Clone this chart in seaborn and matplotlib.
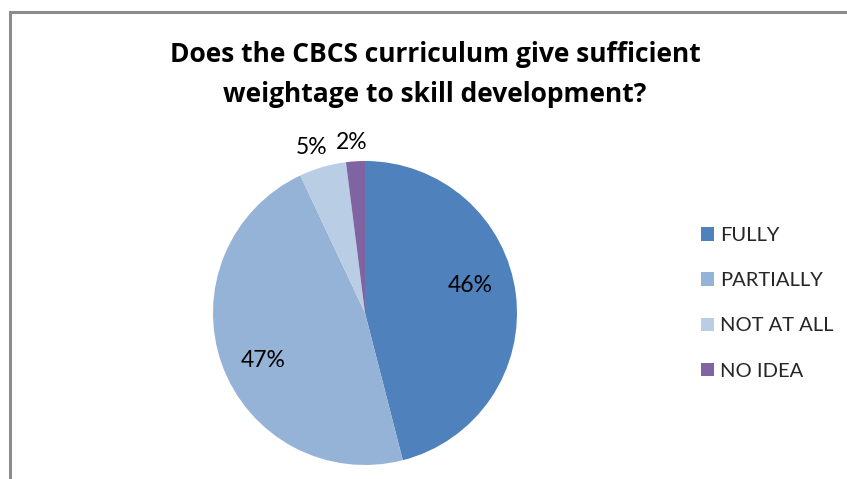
import matplotlib
matplotlib.use("Agg")
import matplotlib.pyplot as plt
from matplotlib.patches import Rectangle, Patch
import seaborn as sns

categories = ["FULLY", "PARTIALLY", "NOT AT ALL", "NO IDEA"]
shares = [46, 47, 5, 2]
colors = ["#4F81BD", "#95B3D7", "#B9CDE5", "#8064A2"]
title_lines = ["Does the CBCS curriculum give sufficient", "weightage to skill development?"]

# label placement in units of the pie radius
label_xy = [(0.69, 0.18), (-0.67, -0.31), (-0.35, 1.09), (-0.086, 1.12)]

sns.set_theme(style="white")
plt.rcParams["font.family"] = ["Lato", "DejaVu Sans"]

W, H, DPI = 847, 479, 100
fig = plt.figure(figsize=(W / DPI, H / DPI), dpi=DPI)
fig.patch.set_facecolor("white")

# chart frame (cropped on the right and bottom)
fig.patches.append(Rectangle((9.5 / W, -0.2), 1.5, (H - 12) / H + 0.2,
                             transform=fig.transFigure, fill=False,
                             edgecolor="#8C8C8C", linewidth=2.2))

cx, cy, R = 365, 313, 152
ax = fig.add_axes([(cx - R) / W, (H - cy - R) / H, 2 * R / W, 2 * R / H])
wedges, _ = ax.pie(shares, colors=colors, startangle=90, counterclock=False,
                   radius=1.0, wedgeprops=dict(linewidth=0))
ax.set_xlim(-1, 1)
ax.set_ylim(-1, 1)
ax.set_aspect("auto")
ax.axis("off")
for w in wedges:
    w.set_clip_on(False)

for v, (x, y) in zip(shares, label_xy):
    ax.text(x, y, f"{v}%", ha="center", va="center", fontsize=16.5,
            color="black", clip_on=False)

for line, base in zip(title_lines, (62, 102)):
    fig.text(435 / W, 1 - base / H, line, ha="center", va="baseline",
             fontsize=19, fontweight="bold", color="black",
             family=["Open Sans", "DejaVu Sans"])

handles = [Patch(facecolor=c, edgecolor="none") for c in colors]
fig.legend(handles, categories, loc="upper left",
           bbox_to_anchor=(691 / W, 1 - 217 / H), frameon=False,
           fontsize=14.5, handlelength=0.65, handleheight=0.65,
           handletextpad=0.3, labelspacing=1.4, borderpad=0)

fig.savefig("out.png", dpi=DPI, facecolor="white")
